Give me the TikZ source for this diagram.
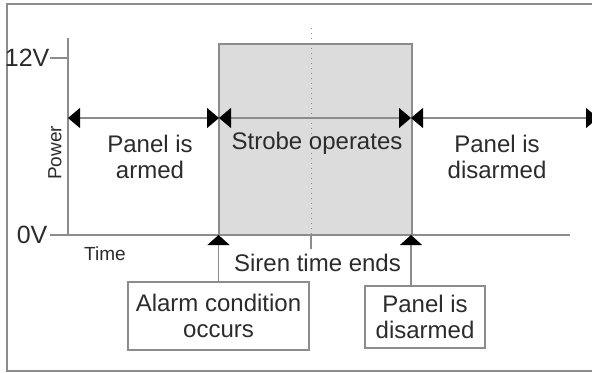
\documentclass[tikz,border=0pt]{standalone}
\usepackage{fontspec}
\setmainfont{Liberation Sans}
\usetikzlibrary{arrows.meta,positioning}
\definecolor{linegray}{HTML}{8C8C8C}
\definecolor{strobefill}{HTML}{DCDCDC}
\definecolor{textgray}{HTML}{2B2B2B}
\tikzstyle{txt} = [text=textgray, font=\fontsize{12}{13}\selectfont, align=center, inner sep=0pt]
\tikzstyle{axislabel} = [text=textgray, font=\fontsize{12.5}{13}\selectfont, inner sep=0pt]
\tikzstyle{smalltxt} = [text=textgray, font=\fontsize{9.5}{11}\selectfont, inner sep=0pt]
\tikzstyle{event} = [rectangle, draw=linegray, line width=0.6pt, txt]
\tikzstyle{span} = [draw=linegray, line width=0.6pt, {Triangle[length=6pt,width=10pt,color=black]}-{Triangle[length=6pt,width=10pt,color=black]}]
\tikzstyle{trigger} = [draw=linegray, line width=0.6pt, -{Triangle[length=5pt,width=11pt,color=black]}]
\tikzstyle{axis} = [draw=linegray, line width=0.6pt]

\begin{document}
\begin{tikzpicture}[x=0.5pt,y=-0.5pt]
            \useasboundingbox (0,0) rectangle (592,373);
            \clip (0,0) rectangle (592,373);
            \draw[linegray, line width=0.8pt] (7,4) rectangle (620,371);

            % strobe period
            \filldraw[fill=strobefill, draw=linegray, line width=0.6pt] (219,44) rectangle (412,235);
            \draw[linegray, dotted, line width=0.5pt] (311,28) -- (311,235);
            \draw[linegray, line width=0.6pt] (311,235) -- (311,249);

            % axes
            \coordinate (origin) at (68,235);
            \coordinate (ytop) at (68,38);
            \coordinate (xend) at (570,235);
            \coordinate (vhigh) at (68,58);
            \draw[axis] (ytop) -- (origin) -- (xend);
            \draw[axis] (vhigh) -- ++(-18,0) node[axislabel, left=0pt] (v12) {12V};
            \draw[axis] (origin) -- ++(-18,0) node[axislabel, left=1pt] (v0) {0V};
            \node[smalltxt, rotate=90] (power) at (55,153) {Power};
            \node[smalltxt] (time) at (105,254) {Time};

            % phases
            \coordinate (t0) at (68,118);
            \coordinate (t1) at (219,118);
            \coordinate (t2) at (411,118);
            \coordinate (t3) at (598,118);
            \draw[span] (t0) -- (t1);
            \draw[span] (t1) -- (t2);
            \draw[span] (t2) -- (t3);
            \node[txt] (armed) at (150,157) {Panel is\\armed};
            \node[txt] (strobe) at (317,143) {Strobe operates};
            \node[txt] (disarmed) at (497,157) {Panel is\\disarmed};

            % events
            \node[event, minimum width=90.5pt, minimum height=34pt] (alarm) at (218.5,316) {Alarm condition\\occurs};
            \node[event, minimum width=60pt, minimum height=31pt] (disarm) at (425,317) {Panel is\\disarmed};
            \node[txt] (siren) at (317.5,263) {Siren time ends};
            \coordinate (off) at (411,235);
            \draw[trigger] (alarm.north) -- (alarm.north |- origin);
            \draw[trigger] (disarm.north -| off) -- (off);
        \end{tikzpicture}
\end{document}
